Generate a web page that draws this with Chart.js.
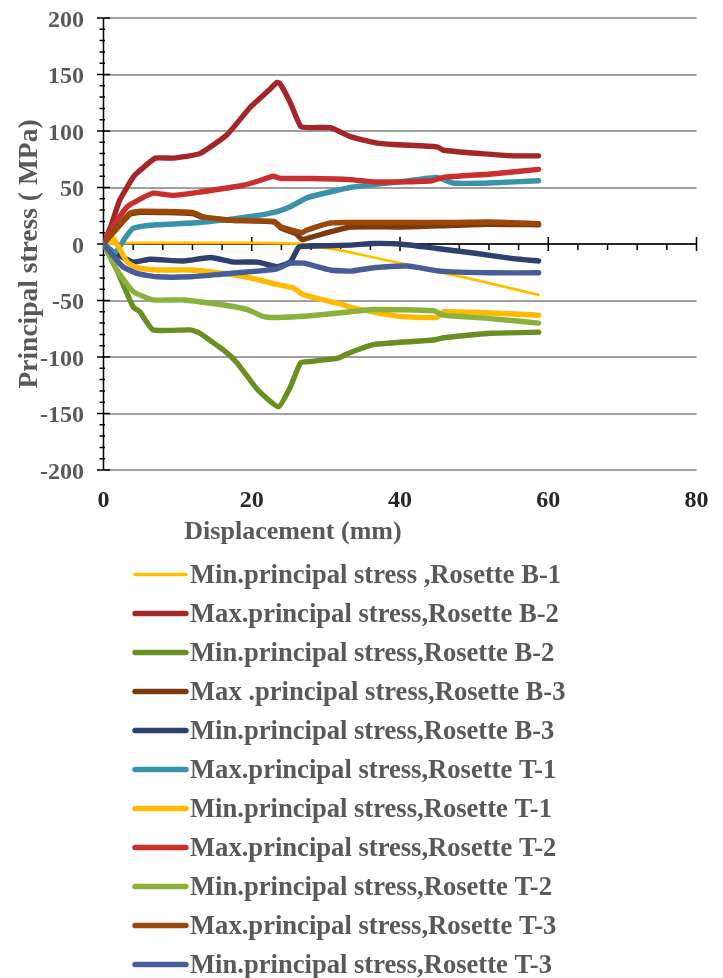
<!DOCTYPE html>
<html>
<head>
<meta charset="utf-8">
<title>Principal stress vs displacement</title>
<script src="https://cdn.jsdelivr.net/npm/chart.js@4.4.1/dist/chart.umd.min.js"></script>
<style>
  html, body { margin: 0; padding: 0; background: #fff; }
  #wrap { width: 723px; height: 978px; }
</style>
</head>
<body>
<div id="wrap"><canvas id="stressChart" width="723" height="978"></canvas></div>
<script>
// --- Data (displacement mm, stress MPa) ---
const seriesLabels = [
    'Min.principal stress ,Rosette B-1',
    'Max.principal stress,Rosette B-2',
    'Min.principal stress,Rosette B-2',
    'Max .principal stress,Rosette B-3',
    'Min.principal stress,Rosette B-3',
    'Max.principal stress,Rosette T-1',
    'Min.principal stress,Rosette T-1',
    'Max.principal stress,Rosette T-2',
    'Min.principal stress,Rosette T-2',
    'Max.principal stress,Rosette T-3',
    'Min.principal stress,Rosette T-3'
];

const b1Min = [[0,0],[1.5,0.5],[5,1],[10,1],[20,1],[25,0.5],[27,0],[33,-7],[40,-17],[45,-24.5],[49,-30],[58.7,-45]];
const b2Max = [[0,0],[1,16],[2.2,39],[4,59],[4.9,65],[7,76],[9.4,76],[13,80],[16.7,97],[19.8,121],[22.3,136],[23.4,143],[23.8,142],[25.2,125],[26.6,104],[28,103],[30.6,103],[32,99],[33.3,95],[36.4,90],[39.1,88],[45,86],[45.9,83],[50.9,80],[55.3,78],[58.7,78]];
const b2Min = [[0,0],[1.8,-23],[4,-55.6],[4.9,-60],[6.7,-76],[11.7,-76],[13,-79],[16.2,-94],[18,-105],[20.8,-129],[23.6,-144],[25.2,-126.5],[26.6,-105],[27.9,-104],[31.6,-101],[33.3,-96],[36.4,-89],[44.5,-85],[45.9,-83],[52.2,-79],[58.7,-78]];
const b3Max = [[0,0],[3.5,26],[5,28],[12,27],[13.5,23],[17.2,21],[23,19.5],[24,14],[26,9],[26.8,4],[28,6],[33.3,15],[40,15],[45,16],[52,17.5],[58.7,17]];
const b3Min = [[0,0],[1.5,-8],[4,-16],[6.3,-13.5],[10.8,-15],[14.5,-12],[17.6,-16],[20.8,-16],[23.4,-20],[25.2,-16],[26.3,-3],[27,-2],[33.3,-1],[36.4,0.5],[40,0],[45,-4],[49.9,-8],[55.3,-13],[58.7,-15]];
const t1Max = [[0,0],[1.5,-8],[3,6],[4,14],[7.2,17],[13,19],[19.4,24],[23,28],[25.2,33],[27.5,41],[33.3,50],[40,55],[45,59],[47.1,54],[52,54],[58.7,56]];
const t1Min = [[0,0],[1.3,5],[3.2,-16],[4.5,-21],[7.2,-23],[11.7,-23],[16.2,-26],[19.8,-30],[22.9,-35],[25.6,-39],[27,-45],[29.7,-49.5],[32,-53],[33.3,-56],[40,-64],[45,-65],[45.9,-60],[52.2,-61],[58.7,-63]];
const t2Max = [[0,0],[1.5,18],[3.2,33],[5,40],[6.7,45],[9.4,43],[13,46],[18.9,52],[21,56],[22.9,60],[23.9,58],[28,58],[33.3,57],[36.4,55],[40,55],[44.3,56],[45.9,59],[52.3,62],[58.7,66]];
const t2Min = [[0,0],[1.8,-23],[4,-42],[6.7,-49.5],[10.8,-49.5],[16.2,-54],[19.4,-58],[21.5,-64],[23.4,-65],[27.5,-63.7],[33.3,-60],[36.4,-58],[44.5,-59],[45.9,-63],[52.2,-66],[58.7,-70]];
const t3Max = [[0,0],[3.5,27],[5,29],[12,28],[13.5,24],[17.2,21],[23,20],[24,15],[26.8,10],[27.3,12],[30.6,18.6],[33.3,19],[40,19],[45,19],[52,19.5],[58.7,18]];
const t3Min = [[0,0],[2.6,-20],[4.5,-26],[7.2,-29],[11.7,-29],[16.2,-26.5],[20.8,-24],[23.4,-22],[25.2,-17],[27,-17],[30.6,-23],[33.3,-24],[36.4,-21],[41,-19.5],[45.5,-24],[52.2,-25.5],[58.7,-25.5]];

const seriesData = [b1Min, b2Max, b2Min, b3Max, b3Min, t1Max, t1Min, t2Max, t2Min, t3Max, t3Min];

const xTickLabels = ['0', '20', '40', '60', '80'];
const yTickLabels = ['-200', '-150', '-100', '-50', '0', '50', '100', '150', '200'];

// --- Styling ---
const seriesColors = [
    '#FFC000', // B-1 min
    '#A3262A', // B-2 max
    '#6B8E23', // B-2 min
    '#7A3A0E', // B-3 max
    '#2F3F6E', // B-3 min
    '#3A93A8', // T-1 max
    '#FFB900', // T-1 min
    '#C8302F', // T-2 max
    '#8BB03B', // T-2 min
    '#9A470A', // T-3 max
    '#485C98'  // T-3 min
];
const seriesWidths = [2.8, 5.4, 5.4, 5.4, 5.4, 5.4, 5.4, 5.4, 5.4, 5.4, 5.4];

const FONT = '"Liberation Serif", "Times New Roman", serif';
const GRAY_TEXT = '#595959';

// --- Axes, titles and legend drawn Excel-style ---
const excelLook = {
    id: 'excelLook',
    beforeDatasetsDraw(chart) {
        const { ctx, scales: { x, y } } = chart;
        const xAxis = x.getPixelForValue(0);
        const yAxis = y.getPixelForValue(0);
        ctx.save();
        ctx.strokeStyle = '#000';
        ctx.lineWidth = 1.5;
        ctx.beginPath();
        ctx.moveTo(xAxis, y.getPixelForValue(200));
        ctx.lineTo(xAxis, y.getPixelForValue(-200));
        for (let v = -200; v <= 200; v += 10) {
            const py = y.getPixelForValue(v);
            if (v % 50 === 0) {
                ctx.moveTo(xAxis - 6.5, py); ctx.lineTo(xAxis + 6.5, py);
            } else {
                ctx.moveTo(xAxis - 4, py); ctx.lineTo(xAxis + 1.5, py);
            }
        }
        ctx.moveTo(x.getPixelForValue(0), yAxis);
        ctx.lineTo(x.getPixelForValue(80), yAxis);
        for (let v = 4; v <= 80; v += 4) {
            const px = x.getPixelForValue(v);
            if (v % 20 === 0) {
                ctx.moveTo(px, yAxis - 7); ctx.lineTo(px, yAxis + 7);
            } else {
                ctx.moveTo(px, yAxis); ctx.lineTo(px, yAxis + 6);
            }
        }
        ctx.stroke();
        ctx.restore();
    },
    afterDraw(chart) {
        const { ctx, scales: { x, y } } = chart;
        ctx.save();

        // y tick labels
        ctx.font = `bold 24px ${FONT}`;
        ctx.fillStyle = GRAY_TEXT;
        ctx.textAlign = 'right';
        ctx.textBaseline = 'alphabetic';
        yTickLabels.forEach(lbl => {
            ctx.fillText(lbl, 84, y.getPixelForValue(Number(lbl)) + 8.5);
        });

        // x tick labels (along the bottom)
        ctx.fillStyle = '#262626';
        ctx.textAlign = 'center';
        xTickLabels.forEach(lbl => {
            ctx.fillText(lbl, x.getPixelForValue(Number(lbl)), 507);
        });

        // axis titles
        ctx.font = `bold 26px ${FONT}`;
        ctx.fillStyle = GRAY_TEXT;
        ctx.fillText('Displacement (mm)', 293, 539);
        ctx.save();
        ctx.font = `bold 27.5px ${FONT}`;
        ctx.translate(37, 254);
        ctx.rotate(-Math.PI / 2);
        ctx.fillText('Principal stress ( MPa)', 0, 0);
        ctx.restore();

        // legend
        ctx.font = `bold 26.6px ${FONT}`;
        ctx.textAlign = 'left';
        chart.data.datasets.forEach((ds, i) => {
            const rowY = 574.5 + 39 * i;
            ctx.strokeStyle = ds.borderColor;
            ctx.lineWidth = i === 0 ? 3.4 : 5.4;
            ctx.lineCap = 'round';
            ctx.beginPath();
            ctx.moveTo(135, rowY);
            ctx.lineTo(186, rowY);
            ctx.stroke();
            ctx.fillStyle = GRAY_TEXT;
            ctx.fillText(ds.label, 190, rowY + 8.5);
        });
        ctx.restore();
    }
};

const datasets = seriesData.map((pts, i) => ({
    label: seriesLabels[i],
    data: pts.map(([px, py]) => ({ x: px, y: py })),
    borderColor: seriesColors[i],
    backgroundColor: seriesColors[i],
    borderWidth: seriesWidths[i],
    borderCapStyle: 'round',
    borderJoinStyle: 'round',
    pointRadius: 0,
    tension: 0.15,
    order: seriesData.length - i
}));

new Chart(document.getElementById('stressChart'), {
    type: 'line',
    data: { datasets },
    options: {
        responsive: false,
        animation: false,
        devicePixelRatio: 1,
        layout: { padding: { left: 103.5, top: 18, right: 26.5, bottom: 508 } },
        scales: {
            x: {
                type: 'linear',
                min: 0,
                max: 80,
                display: false
            },
            y: {
                min: -200,
                max: 200,
                ticks: { display: false, stepSize: 50 },
                grid: { color: '#A0A0A0', lineWidth: 2, drawTicks: false },
                border: { display: false }
            }
        },
        plugins: {
            legend: { display: false },
            tooltip: { enabled: false }
        }
    },
    plugins: [excelLook]
});
</script>
</body>
</html>
